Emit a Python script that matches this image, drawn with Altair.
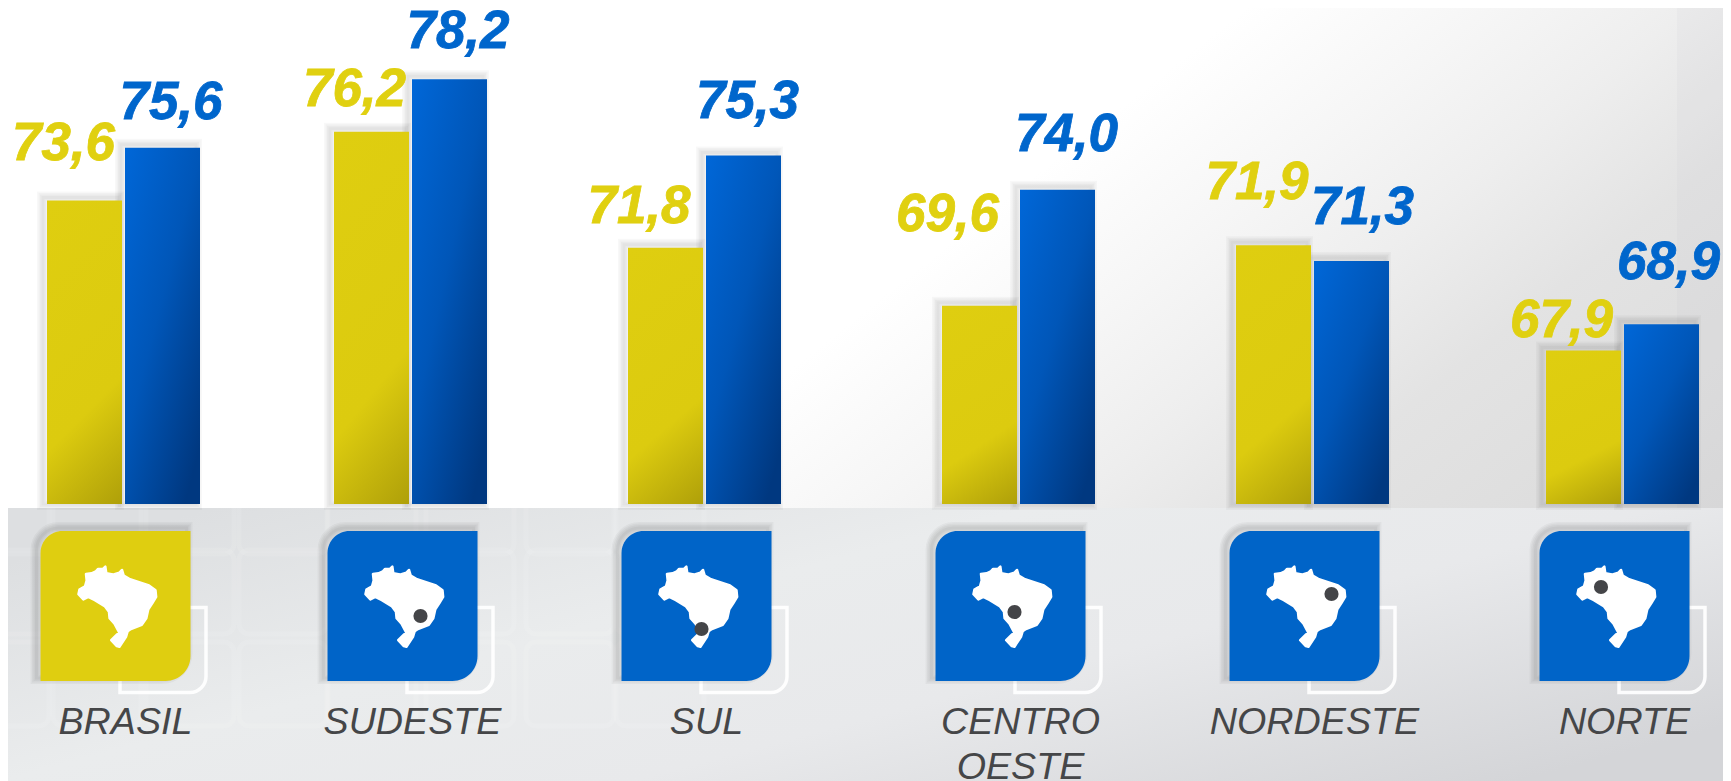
import altair as alt
import pandas as pd

# ---- values ----
regions = ["BRASIL", "SUDESTE", "SUL", "CENTRO\nOESTE", "NORDESTE", "NORTE"]
series_yellow = [73.6, 76.2, 71.8, 69.6, 71.9, 67.9]
series_blue = [75.6, 78.2, 75.3, 74.0, 71.3, 68.9]

# ---- layout (image pixels minus the page's 8px margin) ----
W, H = 1715, 773
M = 8
group_centres = [123.5, 410.5, 704.5, 1018.5, 1312.5, 1622.5]
x_range = [c - M for c in group_centres]
Y_DOMAIN = [51.57, 80.90]
BAR_FLOOR = 62.08
YELLOW, BLUE = "#E0D010", "#0066CC"
FONT = "Liberation Sans"

# label nudges from (group centre, bar top), one per printed number
yellow_nudge = [(-60, -40), (-56, -26), (-65.5, -25), (-71, -75), (-55.5, -46), (-61, -14)]
blue_nudge = [(47.5, -29), (47.5, -31), (43, -37.5), (48, -39), (50, -37), (46, -45)]
# dot offset from the icon centre; BRASIL has none
dot_nudge = {1: (18, 10), 2: (5, 23), 3: (4, 6), 4: (27, -12), 5: (-13.5, -19)}

# Brazil silhouette traced on a 330-unit crop
outline = [(78, 70), (95, 68), (108, 62), (115, 55), (130, 55), (137, 48), (140, 68), (160, 72),
           (180, 66), (188, 58), (193, 75), (210, 85), (240, 95), (270, 105), (290, 120), (292, 140),
           (280, 160), (268, 178), (262, 205), (248, 225), (215, 238), (205, 245), (200, 262),
           (180, 292), (172, 290), (155, 272), (172, 255), (180, 250), (165, 222), (150, 205),
           (148, 185), (135, 168), (105, 150), (85, 140), (70, 148), (55, 132), (58, 118),
           (75, 108), (80, 90)]
brazil = "M" + " L".join(f"{(a - 173.5) / 122:.3f},{(b - 170) / 122:.3f}" for a, b in outline) + " Z"

tile_x = [5, 97, 190, 283, 372, 470, 570, 660]
tile_y = [512, 592, 684]

# ---- tables ----
df = pd.DataFrame({"regiao": regions, "slot": range(6), "amarelo": series_yellow, "azul": series_blue})
one = pd.DataFrame({"k": [0]})
tiles = pd.DataFrame([{"tx": x - M, "ty": y - M} for x in tile_x for y in tile_y])

x_enc = alt.X("slot:Q", axis=None,
              scale=alt.Scale(domain=list(range(6)), range=x_range, padding=0, nice=False, zero=False))
y_scale = alt.Scale(domain=Y_DOMAIN, range=[H, 0], nice=False, zero=False)


def y_enc(field):
    return alt.Y(f"{field}:Q", axis=None, scale=y_scale)


def panel(x0, x1, y0, y1, **kw):
    return alt.Chart(one).mark_rect(**kw).encode(
        x=alt.value(x0), x2=alt.value(x1), y=alt.value(y0), y2=alt.value(y1))


sky = alt.Gradient(gradient="linear", x1=0.54, y1=0.495, x2=1.109, y2=0.704, stops=[
    alt.GradientStop(offset=0, color="#FFFFFF"),
    alt.GradientStop(offset=0.22, color="#F6F6F6"),
    alt.GradientStop(offset=0.4, color="#EEEEEE"),
    alt.GradientStop(offset=0.6, color="#E3E3E3"),
    alt.GradientStop(offset=1, color="#DADADA")])
floor = alt.Gradient(gradient="linear", x1=0, y1=0.2, x2=1, y2=0.8, stops=[
    alt.GradientStop(offset=0, color="#DDDFE1"),
    alt.GradientStop(offset=0.35, color="#EAECED"),
    alt.GradientStop(offset=0.62, color="#E8E9EB"),
    alt.GradientStop(offset=1, color="#D4D5D8")])
g_yellow = alt.Gradient(gradient="linear", x1=0, y1=0, x2=0.3, y2=1.2, stops=[
    alt.GradientStop(offset=0, color="#DFCE10"),
    alt.GradientStop(offset=0.65, color="#DCCB0F"),
    alt.GradientStop(offset=1, color="#AC9D09")])
g_blue = alt.Gradient(gradient="linear", x1=0, y1=0, x2=0.8, y2=1, stops=[
    alt.GradientStop(offset=0, color="#0067D8"),
    alt.GradientStop(offset=0.5, color="#0056B8"),
    alt.GradientStop(offset=1, color="#003880")])

layers = [
    panel(0, W, 0, 500, color=sky),
    panel(1669, W, 0, 500, color="#C4C7CC", opacity=0.12),
    panel(0, W, 500, H, color=floor),
    alt.Chart(tiles).mark_rect(width=88, height=84, fill=None, stroke="#FFFFFF", strokeOpacity=0.1,
                               strokeWidth=5, cornerRadius=10).encode(
        x=alt.X("tx:Q", scale=None, axis=None), y=alt.Y("ty:Q", scale=None, axis=None)),
]

# soft halos first, then the bars on top of all of them
bar_styles = (("amarelo", -39, g_yellow), ("azul", 39, g_blue))
for field, off, grad in bar_styles:
    base = alt.Chart(df).encode(x=x_enc, y=y_enc(field), y2=alt.datum(BAR_FLOOR))
    for sw in (12, 9, 6, 3):
        layers.append(base.mark_bar(size=75, xOffset=off - 4, yOffset=-3, fillOpacity=0, stroke="#000000",
                                    strokeOpacity=0.028, strokeWidth=sw))
for field, off, grad in bar_styles:
    base = alt.Chart(df).encode(x=x_enc, y=y_enc(field), y2=alt.datum(BAR_FLOOR))
    layers.append(base.mark_bar(size=75, xOffset=off, color=grad))

# printed numbers
for field, nudges, colour in (("amarelo", yellow_nudge, YELLOW), ("azul", blue_nudge, BLUE)):
    for i, (dx, dy) in enumerate(nudges):
        row = df.iloc[[i]].copy()
        row["rotulo"] = row[field].map(lambda v: f"{v:.1f}".replace(".", ","))
        layers.append(alt.Chart(row).mark_text(
            font=FONT, fontSize=53, fontStyle="italic", fontWeight="bold", color=colour,
            stroke=colour, strokeWidth=0.8, baseline="alphabetic", align="center", dx=dx, dy=dy).encode(
            x=x_enc, y=y_enc(field), text="rotulo:N"))

ICON_Y0, ICON_Y1 = 531 - M, 681 - M
ICON_MID = (ICON_Y0 + ICON_Y1) / 2
icons = alt.Chart(df).encode(x=x_enc)

layers.append(icons.mark_rect(width=86, xOffset=39.5, fillOpacity=0, stroke="#FFFFFF", strokeOpacity=0.92,
                              strokeWidth=3.5, cornerRadiusBottomRight=16).encode(
    y=alt.value(607.5 - M), y2=alt.value(692.5 - M)))
for sw in (12, 9, 6, 3):
    layers.append(icons.mark_rect(width=150, xOffset=-8 - 4, fillOpacity=0, stroke="#000000", strokeOpacity=0.035,
                                  strokeWidth=sw, cornerRadiusTopLeft=22, cornerRadiusBottomRight=25).encode(
        y=alt.value(ICON_Y0 - 3), y2=alt.value(ICON_Y1 - 3)))
layers.append(icons.mark_rect(width=150, xOffset=-8, cornerRadiusTopLeft=22, cornerRadiusBottomRight=25).encode(
    y=alt.value(ICON_Y0), y2=alt.value(ICON_Y1),
    color=alt.condition("datum.regiao == 'BRASIL'", alt.value("#DFCE10"), alt.value("#0064C8"))))
layers.append(icons.mark_point(shape=brazil, size=6400, filled=True, color="#FFFFFF", opacity=1,
                               stroke="#FFFFFF", strokeWidth=2.5, strokeJoin="round",
                               xOffset=-8 + 1.8).encode(y=alt.value(ICON_MID + 0.7)))
for i, (dx, dy) in dot_nudge.items():
    layers.append(alt.Chart(df.iloc[[i]]).mark_circle(size=201, color="#444548", opacity=1, xOffset=-8 + dx,
                                                      yOffset=dy).encode(x=x_enc, y=alt.value(ICON_MID)))

layers.append(icons.mark_text(font=FONT, fontSize=37.7, fontStyle="italic", color="#454648", baseline="alphabetic",
                              align="center", lineBreak="\n", lineHeight=45, dx=2).encode(
    y=alt.value(734 - M), text="regiao:N"))

chart = alt.layer(*layers).properties(width=W, height=H, padding=0, autosize=alt.AutoSizeParams(type="none"),
                                      background="#FFFFFF").configure_view(stroke=None)
chart.save("out.html", embed_options={"renderer": "svg", "actions": False})
